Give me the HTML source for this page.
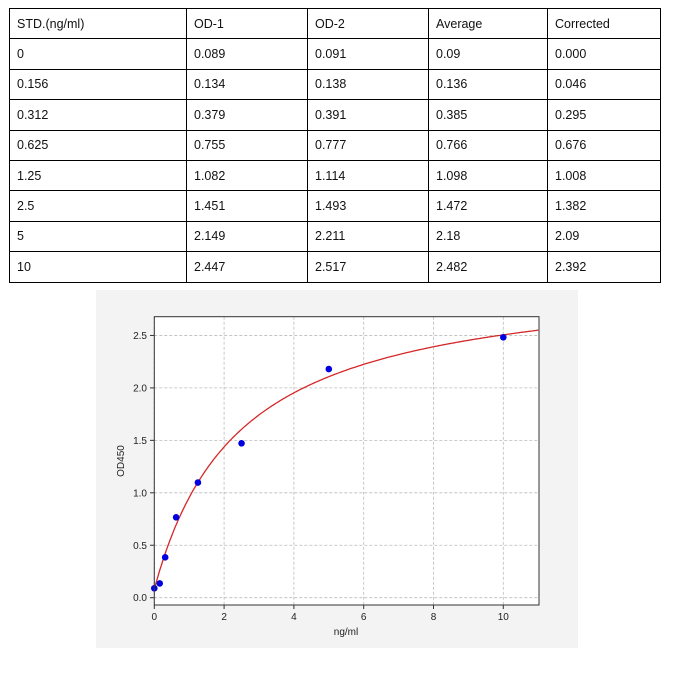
<!DOCTYPE html>
<html><head><meta charset="utf-8"><style>
body{margin:0;background:#fff;width:677px;height:674px;position:relative;font-family:"Liberation Sans",sans-serif;overflow:hidden}
table{position:absolute;left:9px;top:8px;border-collapse:collapse;font-size:12.5px;color:#111}
td{border:1px solid #000;height:30.4px;padding:0 0 0 7px;box-sizing:border-box;vertical-align:middle}
#panel{position:absolute;left:96px;top:290px;width:482px;height:358px;background:#f3f3f3}
svg{position:absolute;left:0;top:0}
</style></head><body>
<table>
<tr><td style="width:177px">STD.(ng/ml)</td><td style="width:121px">OD-1</td><td style="width:121px">OD-2</td><td style="width:119px">Average</td><td style="width:113px">Corrected</td></tr>
<tr><td>0</td><td>0.089</td><td>0.091</td><td>0.09</td><td>0.000</td></tr>
<tr><td>0.156</td><td>0.134</td><td>0.138</td><td>0.136</td><td>0.046</td></tr>
<tr><td>0.312</td><td>0.379</td><td>0.391</td><td>0.385</td><td>0.295</td></tr>
<tr><td>0.625</td><td>0.755</td><td>0.777</td><td>0.766</td><td>0.676</td></tr>
<tr><td>1.25</td><td>1.082</td><td>1.114</td><td>1.098</td><td>1.008</td></tr>
<tr><td>2.5</td><td>1.451</td><td>1.493</td><td>1.472</td><td>1.382</td></tr>
<tr><td>5</td><td>2.149</td><td>2.211</td><td>2.18</td><td>2.09</td></tr>
<tr><td>10</td><td>2.447</td><td>2.517</td><td>2.482</td><td>2.392</td></tr>
</table>
<div id="panel"></div>
<svg width="677" height="674" id="s" font-family="Liberation Sans, sans-serif" font-size="10" fill="#222"></svg>
<script>
var s=document.getElementById('s'),h='';
function X(v){return 154.3+v*34.9}function Y(v){return 597.7-v*104.9}
h+='<rect x="154.3" y="316.7" width="384.7" height="288.3" fill="#fff"/>';
for(var i=0;i<=10;i+=2){var x=X(i);h+='<line x1="'+x+'" y1="316.7" x2="'+x+'" y2="605" stroke="#bbb" stroke-dasharray="3,2" stroke-width="0.8"/><line x1="'+x+'" y1="605" x2="'+x+'" y2="609" stroke="#333"/><text x="'+x+'" y="620" text-anchor="middle">'+i+'</text>';}
for(var j=0;j<=5;j++){var v=j*0.5,y=Y(v);h+='<line x1="154.3" y1="'+y+'" x2="539" y2="'+y+'" stroke="#bbb" stroke-dasharray="3,2" stroke-width="0.8"/><line x1="150" y1="'+y+'" x2="154.3" y2="'+y+'" stroke="#333"/><text x="147" y="'+(y+3.5)+'" text-anchor="end">'+v.toFixed(1)+'</text>';}
var p='';for(var k=0;k<=220;k++){var xv=k*0.05,yv=0.08+3.02*xv/(2.45+xv);p+=(k?'L':'M')+X(xv).toFixed(1)+','+Y(yv).toFixed(1);}
h+='<path d="'+p+'" fill="none" stroke="#d62728" stroke-width="1.3"/>';
[[0,0.09],[0.156,0.136],[0.312,0.385],[0.625,0.766],[1.25,1.098],[2.5,1.472],[5,2.18],[10,2.482]].forEach(function(d){h+='<circle cx="'+X(d[0])+'" cy="'+Y(d[1])+'" r="3.3" fill="#0000e0"/>';});
h+='<rect x="154.3" y="316.7" width="384.7" height="288.3" fill="none" stroke="#333" stroke-width="1"/>';
h+='<text x="346" y="635" text-anchor="middle">ng/ml</text>';
h+='<text transform="translate(124,461) rotate(-90)" text-anchor="middle">OD450</text>';
s.innerHTML=h;
</script>
</body></html>
